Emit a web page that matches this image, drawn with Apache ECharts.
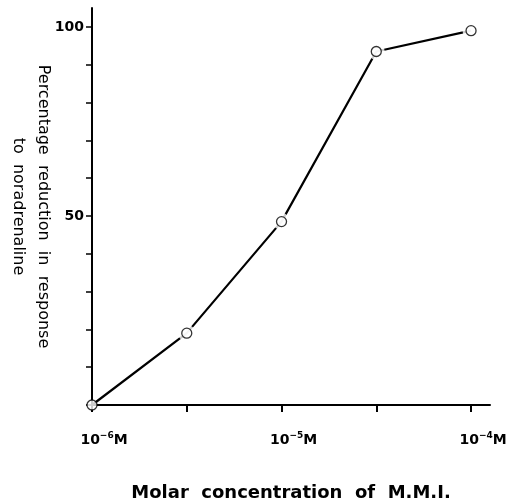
<!DOCTYPE html>
<html><head><meta charset="utf-8">
<script src="https://cdn.jsdelivr.net/npm/echarts@6/dist/echarts.min.js"></script>
<style>html,body{margin:0;padding:0;background:#fff}#c{width:507px;height:503px}</style>
</head><body><div id="c"></div>
<script>
// log10 of molar concentration of M.M.I.
const logConc = [-6, -5.5, -5, -4.5, -4];
const reduction = [0, 19, 48.5, 93.5, 99];
const xTickValues = [-6, -5.5, -5, -4.5, -4];
const xLabelValues = [-6, -5, -4];
const yTickValues = [0, 10, 20, 30, 40, 50, 60, 70, 80, 90, 100];
const yLabelValues = [50, 100];

const pts = logConc.map((x, i) => [x, reduction[i]]);
const font = 'DejaVu Sans';
const chart = echarts.init(document.getElementById('c'));
chart.setOption({
  animation: false,
  backgroundColor: '#fff',
  grid: {left: 92, right: 17, top: 8, bottom: 98, containLabel: false, outerBoundsMode: 'none'},
  xAxis: {
    type: 'value', min: -6, max: -3.9,
    axisLine: {show: true, lineStyle: {color: '#000', width: 2}},
    axisTick: {show: true, length: 7, inside: false, customValues: xTickValues, lineStyle: {color: '#000', width: 2}},
    splitLine: {show: false},
    axisLabel: {
      customValues: xLabelValues, margin: 26, padding: [0, 0, 0, 24],
      formatter: v => '{b|10}{s|−' + Math.abs(Math.round(v)) + '}{b|M}',
      rich: {
        b: {fontFamily: font, fontWeight: 'bold', fontSize: 14, color: '#000'},
        s: {fontFamily: font, fontWeight: 'bold', fontSize: 9, color: '#000', padding: [0, 0, 9, 0]}
      }
    },
    name: 'Molar  concentration  of  M.M.I.',
    nameLocation: 'middle', nameGap: 79,
    nameTextStyle: {fontFamily: font, fontWeight: 'bold', fontSize: 18, color: '#000'}
  },
  yAxis: {
    type: 'value', min: 0, max: 105,
    axisLine: {show: true, lineStyle: {color: '#000', width: 2}},
    axisTick: {show: true, length: 6, customValues: yTickValues, lineStyle: {color: '#000', width: 1.5}},
    splitLine: {show: false},
    axisLabel: {customValues: yLabelValues, margin: 8, fontFamily: font, fontWeight: 'bold', fontSize: 14, color: '#000'},
    name: 'Percentage  reduction  in  response\nto  noradrenaline',
    nameLocation: 'middle', nameRotate: -90, nameGap: 36, nameMoveOverlap: false,
    nameTextStyle: {fontFamily: font, fontSize: 16, color: '#000', lineHeight: 25}
  },
  series: [
    {type: 'line', data: pts, symbol: 'none', lineStyle: {color: '#000', width: 2.2}, z: 2},
    {type: 'scatter', data: pts.slice(1), symbol: 'circle', symbolSize: 17,
     itemStyle: {color: '#fff'}, z: 3, silent: true},
    {type: 'scatter', data: pts, symbol: 'circle', symbolSize: 10,
     itemStyle: {color: '#fff', borderColor: '#000', borderWidth: 1.3}, z: 4}
  ]
});
</script></body></html>
